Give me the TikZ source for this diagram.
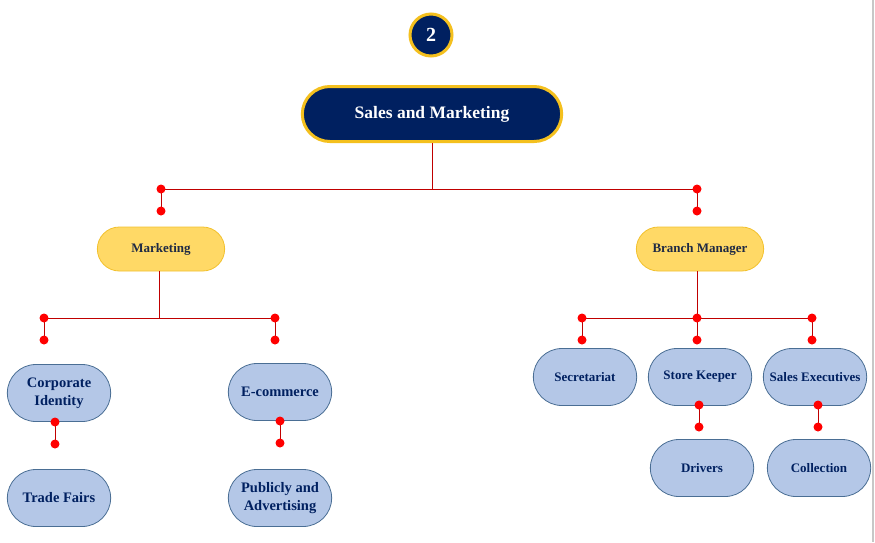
\documentclass[tikz,border=0pt]{standalone}
\usepackage{fontspec}
\setmainfont{Liberation Serif}
\usetikzlibrary{shapes.misc}
\definecolor{navy}{HTML}{002060}
\definecolor{gold}{HTML}{F4C01E}
\definecolor{lightgold}{HTML}{FFD966}
\definecolor{goldedge}{HTML}{F2C12E}
\definecolor{paleblue}{HTML}{B4C7E7}
\definecolor{blueedge}{HTML}{4A6E94}
\definecolor{linered}{HTML}{C00000}
\definecolor{dotred}{HTML}{FF0000}
\definecolor{darktext}{HTML}{1F2A44}
\tikzset{
  topbox/.style={rounded rectangle, fill=navy, draw=gold, line width=3pt,
    minimum width=266pt, minimum height=55pt, text=white,
    font=\bfseries\fontsize{17.5}{20}\selectfont},
  numcircle/.style={circle, fill=navy, draw=gold, line width=3pt,
    minimum size=42pt, inner sep=0pt, text=white,
    font=\bfseries\fontsize{20}{22}\selectfont},
  yellowbox/.style={rounded rectangle, fill=lightgold, draw=goldedge, line width=0.8pt,
    minimum width=134pt, minimum height=44pt, text=darktext,
    font=\bfseries\fontsize{13}{15}\selectfont},
  bluebox/.style={rounded rectangle, fill=paleblue, draw=blueedge, line width=0.8pt,
    minimum width=110pt, minimum height=57pt, text=navy, align=center,
    font=\bfseries\fontsize{13}{16}\selectfont},
  bigbluebox/.style={bluebox, font=\bfseries\fontsize{14.5}{18}\selectfont},
  conn/.style={draw=linered, line width=1pt},
  dotmark/.style={fill=dotred},
}
\begin{document}
\begin{tikzpicture}[x=1pt,y=-1pt]
\useasboundingbox[fill=white] (0,0) rectangle (875,542);
\draw[color=black!22, line width=1.2pt] (873,0) -- (873,542);

\node[numcircle] (num) at (431,35) {2};
\node[topbox] (sm) at (432,114) {Sales and Marketing};

\node[yellowbox] (mk) at (161,249) {Marketing};
\node[yellowbox] (bm) at (700,249) {Branch Manager};

\node[bigbluebox] (ci) at (59,393) {Corporate\\Identity};
\node[bigbluebox] (ec) at (280,392) {E-commerce};
\node[bigbluebox] (tf) at (59,498) {Trade Fairs};
\node[bigbluebox] (pa) at (280,498) {Publicly and\\Advertising};

\node[bluebox] (se) at (585,377) {Secretariat};
\node[bluebox] (sk) at (700,377) {Store Keeper};
\node[bluebox] (sx) at (815,377) {Sales Executives};
\node[bluebox] (dr) at (702,468) {Drivers};
\node[bluebox] (co) at (819,468) {Collection};

% level 1 connectors
\coordinate (a1) at (161,189);
\coordinate (a2) at (161,211);
\coordinate (b1) at (697,189);
\coordinate (b2) at (697,211);
\draw[conn] (sm.south) -- (sm.south |- a1);
\draw[conn] (a1) -- (b1);
\draw[conn] (a1) -- (a2);
\draw[conn] (b1) -- (b2);

% marketing connectors
\coordinate (m0) at (159,318);
\coordinate (c1) at (44,318);
\coordinate (c2) at (44,340);
\coordinate (e1) at (275,318);
\coordinate (e2) at (275,340);
\draw[conn] (mk.south -| m0) -- (m0);
\draw[conn] (c1) -- (e1);
\draw[conn] (c1) -- (c2);
\draw[conn] (e1) -- (e2);

% branch manager connectors
\coordinate (s1) at (582,318);
\coordinate (s2) at (582,340);
\coordinate (k1) at (697,318);
\coordinate (k2) at (697,340);
\coordinate (x1) at (812,318);
\coordinate (x2) at (812,340);
\draw[conn] (bm.south -| k1) -- (k1);
\draw[conn] (s1) -- (x1);
\draw[conn] (s1) -- (s2);
\draw[conn] (k1) -- (k2);
\draw[conn] (x1) -- (x2);

% lower connectors
\coordinate (ci1) at (55,422);
\coordinate (ci2) at (55,444);
\coordinate (ec1) at (280,421);
\coordinate (ec2) at (280,443);
\coordinate (sk1) at (699,405);
\coordinate (sk2) at (699,427);
\coordinate (sx1) at (818,405);
\coordinate (sx2) at (818,427);
\draw[conn] (ci1) -- (ci2);
\draw[conn] (ec1) -- (ec2);
\draw[conn] (sk1) -- (sk2);
\draw[conn] (sx1) -- (sx2);

\foreach \p in {a1,a2,b1,b2,c1,c2,e1,e2,s1,s2,k1,k2,x1,x2,ci1,ci2,ec1,ec2,sk1,sk2,sx1,sx2}
  \fill[dotmark] (\p) circle (4.5pt);
\end{tikzpicture}
\end{document}
